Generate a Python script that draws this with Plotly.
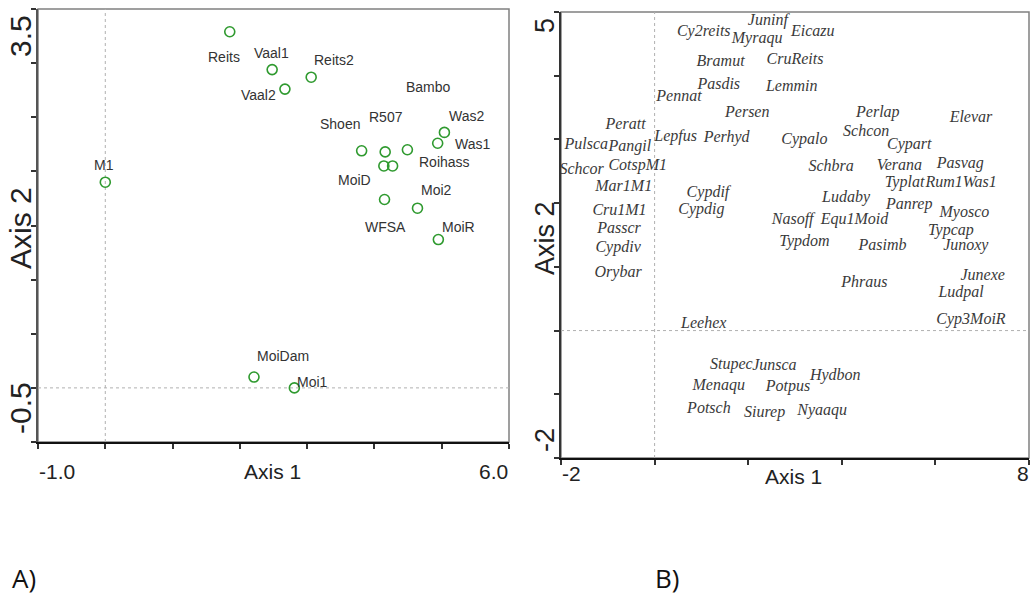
import plotly.graph_objects as go

W, H = 1032, 599

# ---------------- Panel A: sites (Axis 1 / Axis 2 scores) ----------------
A_SITES = ["Reits", "M1", "Vaal1", "Vaal2", "Reits2", "Bambo", "Roihass", "Shoen",
           "R507", "MoiD", "Was2", "Was1", "Moi2", "WFSA", "MoiR", "MoiDam", "Moi1"]
A_AXIS1 = [1.85, 0.00, 2.48, 2.67, 3.06, 4.49, 4.27, 3.81,
           4.16, 4.14, 5.04, 4.94, 4.64, 4.15, 4.95, 2.21, 2.81]
A_AXIS2 = [3.29, 1.90, 2.94, 2.76, 2.87, 2.20, 2.05, 2.19,
           2.18, 2.05, 2.36, 2.26, 1.66, 1.74, 1.37, 0.10, 0.00]
A_XRANGE = [-1.0, 6.0]
A_YRANGE = [-0.5, 3.5]
A_XTICKS = [-1, 0, 1, 2, 3, 4, 5, 6]
A_YTICKS = [-0.5, 0.0, 0.5, 1.0, 1.5, 2.0, 2.5, 3.0, 3.5]
A_XTICK_LABELS = ["-1.0", "6.0"]
A_YTICK_LABELS = ["-0.5", "3.5"]

# label displacement from its point (pixels) -- style only
A_LABEL_SHIFT = {
    "Reits": (-6, -25), "M1": (-1, 17), "Vaal1": (-1, 17), "Vaal2": (-26, -6),
    "Reits2": (23, 17), "Bambo": (21, 63), "Roihass": (52, 4), "Shoen": (-22, 27),
    "R507": (1, 35), "MoiD": (-29, -14), "Was2": (22, 16), "Was1": (35, -1),
    "Moi2": (19, 18), "WFSA": (1, -27), "MoiR": (20, 13), "MoiDam": (29, 21),
    "Moi1": (18, 6),
}

# ---------------- Panel B: species (Axis 1 / Axis 2 scores) ----------------
B_SPECIES = ["Cy2reits", "Juninf", "Myraqu", "Eicazu", "Bramut", "CruReits", "Pasdis",
             "Lemmin", "Pennat", "Persen", "Peratt", "Lepfus", "Perhyd", "Pulsca",
             "Pangil", "Schcor", "CotspM1", "Mar1M1", "Cypdif", "Cypdig", "Cru1M1",
             "Passcr", "Cypdiv", "Orybar", "Phraus", "Junexe", "Ludpal", "Cyp3MoiR",
             "Leehex", "Stupec", "Junsca", "Hydbon", "Menaqu", "Potpus", "Potsch",
             "Siurep", "Nyaaqu", "Pasimb", "Junoxy", "Perlap", "Elevar", "Schcon",
             "Cypalo", "Cypart", "Schbra", "Verana", "Pasvag", "Typlat", "Rum1Was1",
             "Ludaby", "Panrep", "Myosco", "Nasoff", "Equ1Moid", "Typcap", "Typdom"]
B_AXIS1 = [1.05, 2.42, 2.19, 3.38, 1.41, 3.00, 1.37,
           2.93, 0.52, 1.98, -0.62, 0.45, 1.54, -1.46,
           -0.53, -1.56, -0.36, -0.66, 1.14, 1.00, -0.75,
           -0.76, -0.78, -0.78, 4.48, 7.01, 6.55, 6.76,
           1.05, 1.64, 2.56, 3.86, 1.37, 2.85, 1.16,
           2.35, 3.58, 4.87, 6.65, 4.77, 6.76, 4.52,
           3.20, 5.44, 3.77, 5.23, 6.53, 5.34, 6.55,
           4.09, 5.44, 6.62, 2.95, 4.27, 6.33, 3.20]
B_AXIS2 = [4.68, 4.86, 4.58, 4.68, 4.22, 4.24, 3.85,
           3.82, 3.67, 3.41, 3.22, 3.04, 3.03, 2.91,
           2.88, 2.52, 2.59, 2.26, 2.16, 1.90, 1.87,
           1.59, 1.29, 0.91, 0.74, 0.86, 0.59, 0.17,
           0.10, -0.54, -0.56, -0.71, -0.87, -0.88, -1.23,
           -1.29, -1.26, 1.32, 1.32, 3.41, 3.33, 3.12,
           2.99, 2.91, 2.57, 2.59, 2.62, 2.31, 2.31,
           2.08, 1.97, 1.84, 1.74, 1.74, 1.56, 1.39]
B_XRANGE = [-2, 8]
B_YRANGE = [-2, 5]
B_XTICKS = [-2, 0, 2, 4, 6, 8]
B_YTICKS = [-2, -1, 0, 1, 2, 3, 4, 5]
B_XTICK_LABELS = ["-2", "8"]
B_YTICK_LABELS = ["-2", "5"]

AXIS_TITLES = ["Axis 1", "Axis 2"]
PANEL_LETTERS = ["A)", "B)"]

# ---------------- styles ----------------
SANS = "Liberation Sans, Arial, sans-serif"
SERIF = "Liberation Serif, Times New Roman, serif"
GREEN = "#2f9a2f"

fig = go.Figure()

fig.add_trace(go.Scatter(
    x=A_AXIS1, y=A_AXIS2, mode="markers", xaxis="x", yaxis="y",
    marker=dict(symbol="circle-open", size=10, color=GREEN, line=dict(width=1.6, color=GREEN)),
    hoverinfo="text", text=A_SITES, cliponaxis=False,
))
for name, xv, yv in zip(A_SITES, A_AXIS1, A_AXIS2):
    xs, ys = A_LABEL_SHIFT[name]
    fig.add_annotation(x=xv, y=yv, xref="x", yref="y", text=name, showarrow=False,
                       xshift=xs, yshift=ys, xanchor="center", yanchor="middle",
                       font=dict(family=SANS, size=14, color="#333333"))

fig.add_trace(go.Scatter(
    x=B_AXIS1, y=B_AXIS2, mode="text", xaxis="x2", yaxis="y2",
    text=B_SPECIES, textposition="middle center", cliponaxis=False,
    textfont=dict(family=SERIF, size=16, color="#3a3a3a", style="italic"),
))

axis_common = dict(showgrid=False, zeroline=False, showticklabels=False,
                   ticks="outside", ticklen=5, tickwidth=1.5, tickcolor="#333")

fig.update_layout(
    width=W, height=H, margin=dict(l=0, r=0, t=0, b=0),
    paper_bgcolor="white", plot_bgcolor="white", showlegend=False,
    xaxis=dict(domain=[38 / W, 509 / W], range=A_XRANGE, tickvals=A_XTICKS,
               showline=True, linecolor="#111", linewidth=2, anchor="y", **axis_common),
    yaxis=dict(domain=[1 - 442 / H, 1 - 9 / H], range=A_YRANGE, tickvals=A_YTICKS,
               showline=True, linecolor="#555", linewidth=2, anchor="x", **axis_common),
    xaxis2=dict(domain=[561 / W, 1029 / W], range=B_XRANGE, tickvals=B_XTICKS,
                showline=True, linecolor="#111", linewidth=2, anchor="y2", **axis_common),
    yaxis2=dict(domain=[1 - 458 / H, 1 - 12 / H], range=B_YRANGE, tickvals=B_YTICKS,
                showline=True, linecolor="#333", linewidth=1.5, anchor="x2", **axis_common),
)

# frames (top/right borders) and zero reference lines
for xr, yr in (("x", "y"), ("x2", "y2")):
    fig.add_shape(type="rect", xref=f"{xr} domain", yref=f"{yr} domain",
                  x0=0, x1=1, y0=0, y1=1, line=dict(color="#808080", width=1.5), layer="below")
    fig.add_shape(type="line", xref=xr, yref=f"{yr} domain", x0=0, x1=0, y0=0, y1=1,
                  line=dict(color="#b0b0b0", width=1, dash="dot"), layer="below")
    fig.add_shape(type="line", xref=f"{xr} domain", yref=yr, x0=0, x1=1, y0=0, y1=0,
                  line=dict(color="#b0b0b0", width=1, dash="dot"), layer="below")

tick_font = dict(family=SANS, size=21, color="#222")
rot_font_a = dict(family=SANS, size=30, color="#222")
rot_font_b = dict(family=SANS, size=27, color="#222")
C = dict(showarrow=False, xanchor="center", yanchor="middle")

# Panel A end tick labels and titles
fig.add_annotation(x=A_XRANGE[0], y=1 - 471 / H, xref="x", yref="paper", text=A_XTICK_LABELS[0],
                   xshift=19, font=tick_font, **C)
fig.add_annotation(x=A_XRANGE[1], y=1 - 471 / H, xref="x", yref="paper", text=A_XTICK_LABELS[1],
                   xshift=-16, font=tick_font, **C)
fig.add_annotation(x=20 / W, y=A_YRANGE[0], xref="paper", yref="y", text=A_YTICK_LABELS[0],
                   yshift=34, textangle=-90, font=rot_font_a, **C)
fig.add_annotation(x=20 / W, y=A_YRANGE[1], xref="paper", yref="y", text=A_YTICK_LABELS[1],
                   yshift=-27, textangle=-90, font=rot_font_a, **C)
fig.add_annotation(x=272 / W, y=1 - 471 / H, xref="paper", yref="paper", text=AXIS_TITLES[0],
                   font=tick_font, **C)
fig.add_annotation(x=20 / W, y=1 - 228 / H, xref="paper", yref="paper", text=AXIS_TITLES[1],
                   textangle=-90, font=rot_font_a, **C)

# Panel B end tick labels and titles
fig.add_annotation(x=B_XRANGE[0], y=1 - 474 / H, xref="x2", yref="paper", text=B_XTICK_LABELS[0],
                   xshift=10, font=tick_font, **C)
fig.add_annotation(x=B_XRANGE[1], y=1 - 474 / H, xref="x2", yref="paper", text=B_XTICK_LABELS[1],
                   xshift=-6, font=tick_font, **C)
fig.add_annotation(x=545 / W, y=B_YRANGE[0], xref="paper", yref="y2", text=B_YTICK_LABELS[0],
                   yshift=18, textangle=-90, font=rot_font_b, **C)
fig.add_annotation(x=545 / W, y=B_YRANGE[1], xref="paper", yref="y2", text=B_YTICK_LABELS[1],
                   yshift=-14, textangle=-90, font=rot_font_b, **C)
fig.add_annotation(x=793 / W, y=1 - 476 / H, xref="paper", yref="paper", text=AXIS_TITLES[0],
                   font=tick_font, **C)
fig.add_annotation(x=545 / W, y=1 - 238 / H, xref="paper", yref="paper", text=AXIS_TITLES[1],
                   textangle=-90, font=rot_font_b, **C)

# panel letters
letter_font = dict(family="Open Sans, Noto Sans, sans-serif", size=26, color="#111")
fig.add_annotation(x=10 / W, y=1 - 578 / H, xref="paper", yref="paper", text=PANEL_LETTERS[0],
                   showarrow=False, xanchor="left", yanchor="middle", font=letter_font)
fig.add_annotation(x=653 / W, y=1 - 578 / H, xref="paper", yref="paper", text=PANEL_LETTERS[1],
                   showarrow=False, xanchor="left", yanchor="middle", font=letter_font)

fig.write_html("out.html")
